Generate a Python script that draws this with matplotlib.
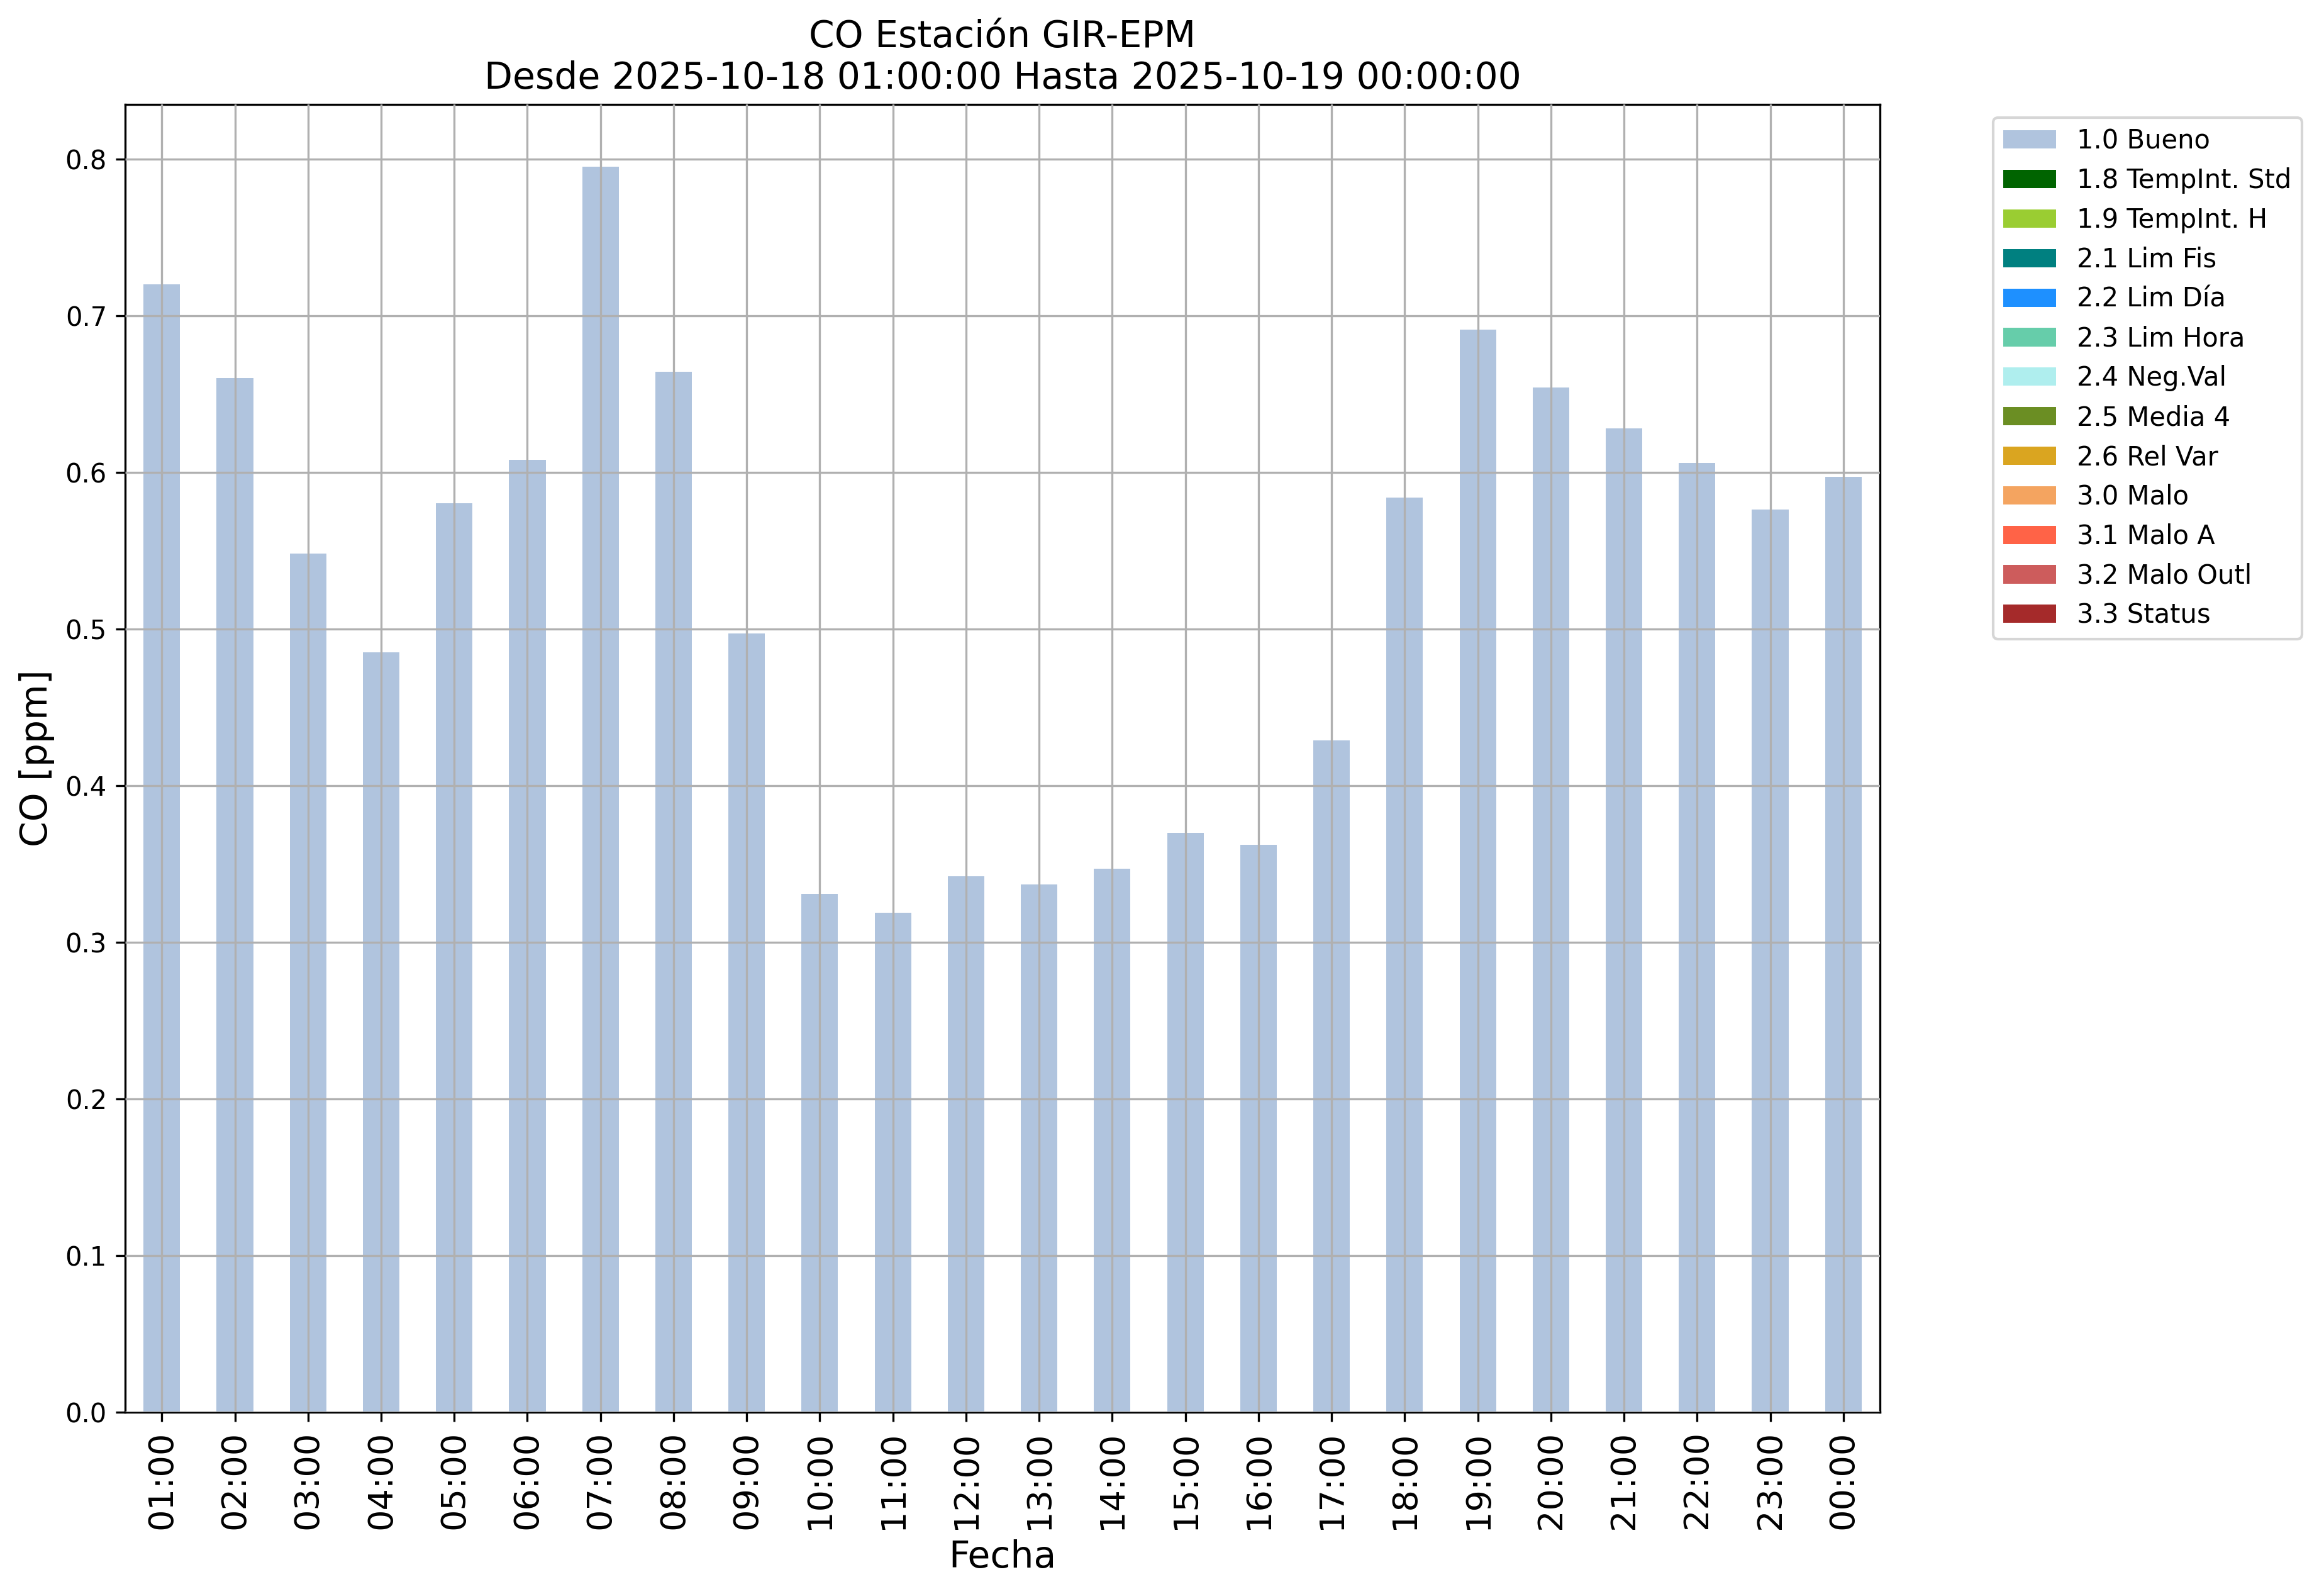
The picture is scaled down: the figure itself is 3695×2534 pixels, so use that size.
import matplotlib
matplotlib.use("Agg")
import matplotlib.pyplot as plt
import numpy as np

horas = ["01:00", "02:00", "03:00", "04:00", "05:00", "06:00", "07:00", "08:00",
         "09:00", "10:00", "11:00", "12:00", "13:00", "14:00", "15:00", "16:00",
         "17:00", "18:00", "19:00", "20:00", "21:00", "22:00", "23:00", "00:00"]

co_bueno = [0.720, 0.660, 0.548, 0.485, 0.580, 0.608, 0.795, 0.664,
            0.497, 0.331, 0.319, 0.342, 0.337, 0.347, 0.370, 0.362,
            0.429, 0.584, 0.691, 0.654, 0.628, 0.606, 0.576, 0.597]

flags = ["1.0 Bueno", "1.8 TempInt. Std", "1.9 TempInt. H", "2.1 Lim Fis",
         "2.2 Lim Día", "2.3 Lim Hora", "2.4 Neg.Val", "2.5 Media 4",
         "2.6 Rel Var", "3.0 Malo", "3.1 Malo A", "3.2 Malo Outl", "3.3 Status"]

colores = ["lightsteelblue", "darkgreen", "yellowgreen", "teal", "dodgerblue",
           "mediumaquamarine", "paleturquoise", "olivedrab", "goldenrod",
           "sandybrown", "tomato", "indianred", "brown"]

fig = plt.figure(figsize=(3695 / 300, 2534 / 300), dpi=300)
ax = fig.add_axes([0.0539, 0.1140, 0.8089 - 0.0539, 0.9345 - 0.1140])

x = np.arange(len(horas))
base = np.zeros(len(horas))
for i, (flag, col) in enumerate(zip(flags, colores)):
    vals = np.array(co_bueno) if i == 0 else np.zeros(len(horas))
    ax.bar(x, vals, width=0.5, bottom=base, color=col, label=flag, zorder=1)
    base = base + vals

ax.set_xlim(-0.5, len(horas) - 0.5)
ax.set_ylim(0, max(co_bueno) * 1.05)
ax.set_xticks(x)
ax.set_xticklabels(horas, rotation=90, fontsize=13)
ax.tick_params(axis="y", labelsize=10)
ax.grid(True, zorder=3)
ax.set_axisbelow(False)

ax.set_xlabel("Fecha", fontsize=14)
ax.set_ylabel("CO [ppm]", fontsize=14)
ax.set_title("CO Estación GIR-EPM\nDesde 2025-10-18 01:00:00 Hasta 2025-10-19 00:00:00", fontsize=14)

ax.legend(bbox_to_anchor=(1.057, 1), loc="upper left", fontsize=10)

fig.savefig("out.png", dpi=300)
